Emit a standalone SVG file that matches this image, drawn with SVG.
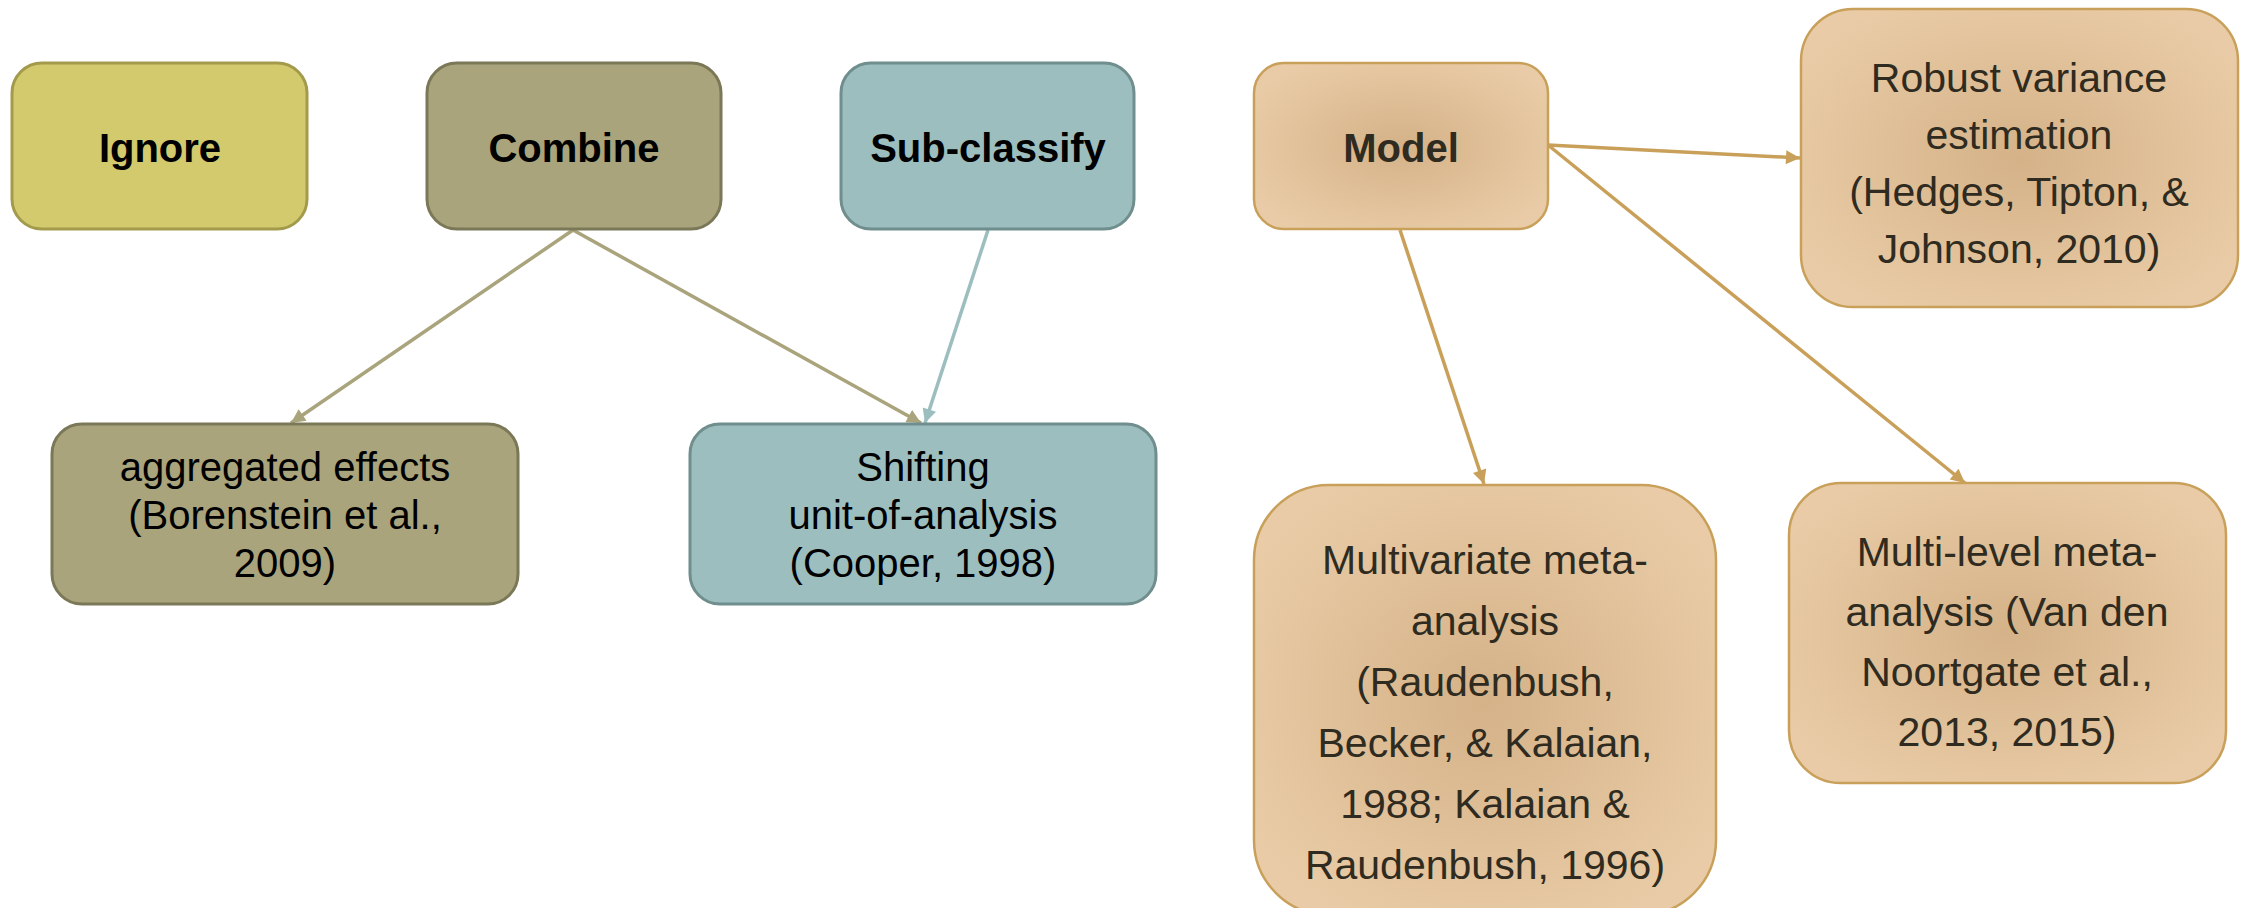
<svg xmlns="http://www.w3.org/2000/svg" width="2248" height="908" viewBox="0 0 2248 908">
<defs>
<radialGradient id="tan" cx="50%" cy="50%" r="60%">
<stop offset="0" stop-color="#D5B288"/>
<stop offset="1" stop-color="#E9CCA7"/>
</radialGradient>
<marker id="aOlive" viewBox="0 0 10 10" refX="10" refY="5" markerWidth="16" markerHeight="14" markerUnits="userSpaceOnUse" orient="auto"><path d="M0,0 L10,5 L0,10 Z" fill="#A9A47C"/></marker>
<marker id="aTeal" viewBox="0 0 10 10" refX="10" refY="5" markerWidth="16" markerHeight="14" markerUnits="userSpaceOnUse" orient="auto"><path d="M0,0 L10,5 L0,10 Z" fill="#9DBEBE"/></marker>
<marker id="aTan" viewBox="0 0 10 10" refX="10" refY="5" markerWidth="16" markerHeight="14" markerUnits="userSpaceOnUse" orient="auto"><path d="M0,0 L10,5 L0,10 Z" fill="#C9A05A"/></marker>
</defs>
<style>
.t{font-family:"Liberation Sans",Arial,sans-serif;text-anchor:middle}
.h{font-size:40px;font-weight:bold;fill:#000}
.b{font-size:40px;fill:#000}
.bt{font-size:41px;fill:#2F2B20}
.ign{fill:#D2CA6C;stroke:#A39B4B;stroke-width:3}
.cmb{fill:#A9A47C;stroke:#7B7858;stroke-width:3}
.sub{fill:#9DBEBE;stroke:#6F8E8D;stroke-width:3}
.tan{fill:url(#tan);stroke:#C9A05A;stroke-width:2.5}
.c{fill:none;stroke-width:3.5}
</style>
<g id="connectors">
<line class="c" x1="573" y1="230" x2="291" y2="423" stroke="#A9A47C" marker-end="url(#aOlive)"/>
<line class="c" x1="573" y1="230" x2="921" y2="423" stroke="#A9A47C" marker-end="url(#aOlive)"/>
<line class="c" x1="988" y1="230" x2="925" y2="423" stroke="#9DBEBE" marker-end="url(#aTeal)"/>
<line class="c" x1="1548" y1="145" x2="1800" y2="158" stroke="#C9A05A" marker-end="url(#aTan)"/>
<line class="c" x1="1548" y1="145" x2="1965" y2="483" stroke="#C9A05A" marker-end="url(#aTan)"/>
<line class="c" x1="1400" y1="230" x2="1484" y2="484" stroke="#C9A05A" marker-end="url(#aTan)"/>
</g>
<g id="ignore">
<rect class="ign" x="12" y="63" width="295" height="166" rx="30"/>
<text class="t h" x="160" y="162">Ignore</text>
</g>
<g id="combine">
<rect class="cmb" x="427" y="63" width="294" height="166" rx="30"/>
<text class="t h" x="574" y="162">Combine</text>
</g>
<g id="subclassify">
<rect class="sub" x="841" y="63" width="293" height="166" rx="30"/>
<text class="t h" x="988" y="162">Sub-classify</text>
</g>
<g id="model">
<rect class="tan" x="1254" y="63" width="294" height="166" rx="30"/>
<text class="t h" x="1401" y="162" style="fill:#2F2B20">Model</text>
</g>
<g id="robust">
<rect class="tan" x="1801" y="9" width="437" height="298" rx="52"/>
<text class="t bt" x="2019" y="92">Robust variance</text>
<text class="t bt" x="2019" y="149">estimation</text>
<text class="t bt" x="2019" y="206">(Hedges, Tipton, &amp;</text>
<text class="t bt" x="2019" y="263">Johnson, 2010)</text>
</g>
<g id="aggregated">
<rect class="cmb" x="52" y="424" width="466" height="180" rx="30"/>
<text class="t b" x="285" y="481">aggregated effects</text>
<text class="t b" x="285" y="529">(Borenstein et al.,</text>
<text class="t b" x="285" y="577">2009)</text>
</g>
<g id="shifting">
<rect class="sub" x="690" y="424" width="466" height="180" rx="30"/>
<text class="t b" x="923" y="481">Shifting</text>
<text class="t b" x="923" y="529">unit-of-analysis</text>
<text class="t b" x="923" y="577">(Cooper, 1998)</text>
</g>
<g id="multivariate">
<rect class="tan" x="1254" y="485" width="462" height="430" rx="75"/>
<text class="t bt" x="1485" y="574">Multivariate meta-</text>
<text class="t bt" x="1485" y="635">analysis</text>
<text class="t bt" x="1485" y="696">(Raudenbush,</text>
<text class="t bt" x="1485" y="757">Becker, &amp; Kalaian,</text>
<text class="t bt" x="1485" y="818">1988; Kalaian &amp;</text>
<text class="t bt" x="1485" y="879">Raudenbush, 1996)</text>
</g>
<g id="multilevel">
<rect class="tan" x="1789" y="483" width="437" height="300" rx="52"/>
<text class="t bt" x="2007" y="566">Multi-level meta-</text>
<text class="t bt" x="2007" y="626">analysis (Van den</text>
<text class="t bt" x="2007" y="686">Noortgate et al.,</text>
<text class="t bt" x="2007" y="746">2013, 2015)</text>
</g>
</svg>
